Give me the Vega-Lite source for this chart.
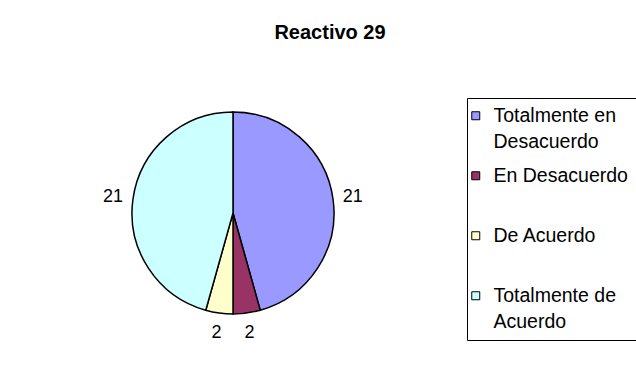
{
  "$schema": "https://vega.github.io/schema/vega-lite/v6.json",
  "autosize": "none",
  "width": 466,
  "height": 318,
  "padding": {"left": 0, "top": 54, "right": 170, "bottom": 0},
  "background": "white",
  "config": {"view": {"stroke": null}, "font": "Liberation Sans"},
  "title": {
    "text": "Reactivo 29",
    "font": "Liberation Sans",
    "fontSize": 20,
    "fontWeight": "bold",
    "color": "black",
    "anchor": "middle",
    "frame": "group",
    "dx": 97,
    "baseline": "middle",
    "offset": 1.5
  },
  "data": {
    "values": [
      {"cat": "Totalmente en Desacuerdo", "n": 21, "o": 1},
      {"cat": "En Desacuerdo", "n": 2, "o": 2},
      {"cat": "De Acuerdo", "n": 2, "o": 3},
      {"cat": "Totalmente de Acuerdo", "n": 21, "o": 4}
    ]
  },
  "encoding": {
    "theta": {"field": "n", "type": "quantitative", "stack": true},
    "order": {"field": "o", "type": "quantitative"}
  },
  "layer": [
    {
      "mark": {"type": "arc", "outerRadius": 101, "stroke": "black", "strokeWidth": 1.5},
      "encoding": {
        "color": {
          "field": "cat",
          "type": "nominal",
          "sort": ["Totalmente en Desacuerdo", "En Desacuerdo", "De Acuerdo", "Totalmente de Acuerdo"],
          "scale": {
            "domain": ["Totalmente en Desacuerdo", "En Desacuerdo", "De Acuerdo", "Totalmente de Acuerdo"],
            "range": ["#9999FF", "#993366", "#FFFFCC", "#CCFFFF"]
          },
          "legend": {
            "title": null,
            "orient": "none",
            "legendX": 467,
            "legendY": 44,
            "direction": "vertical",
            "strokeColor": "black",
            "fillColor": "white",
            "padding": 8,
            "gridAlign": "all",
            "symbolType": "square",
            "symbolSize": 64,
            "symbolOffset": -9,
            "symbolStrokeColor": "black",
            "symbolStrokeWidth": 1,
            "symbolOpacity": 1,
            "labelFont": "Liberation Sans",
            "labelFontSize": 19.5,
            "labelColor": "black",
            "labelLimit": 300,
            "labelOffset": 8,
            "rowPadding": 13,
            "labelExpr": "datum.label == 'Totalmente en Desacuerdo' ? ['Totalmente en', 'Desacuerdo'] : datum.label == 'Totalmente de Acuerdo' ? ['Totalmente de', 'Acuerdo'] : datum.label",
            "encode": {"labels": {"update": {"lineHeight": {"value": 26}}}}
          }
        }
      }
    },
    {
      "mark": {"type": "text", "radius": 121, "font": "Liberation Sans", "fontSize": 18, "color": "black"},
      "encoding": {
        "text": {"field": "n", "type": "quantitative"}
      }
    }
  ]
}
